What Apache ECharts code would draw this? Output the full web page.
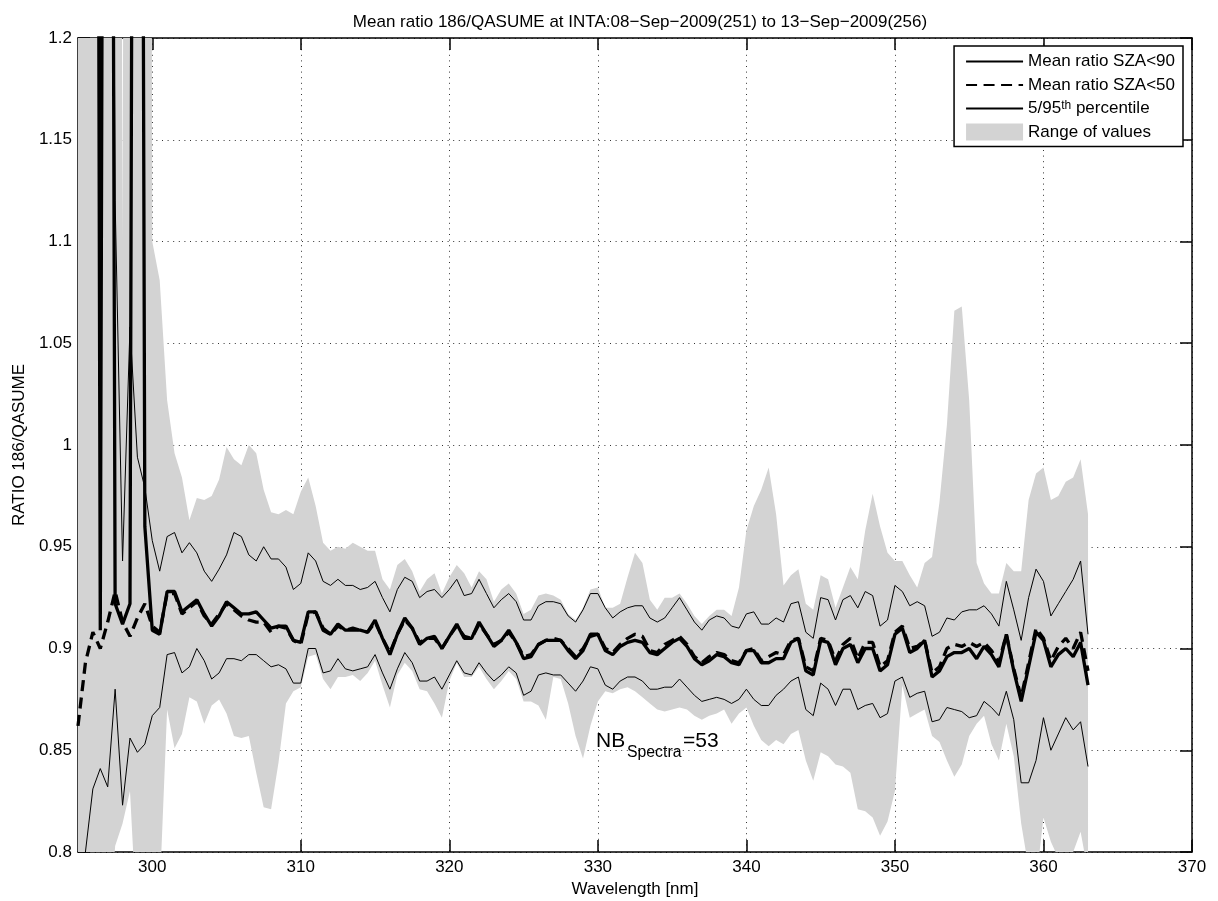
<!DOCTYPE html>
<html>
<head>
<meta charset="utf-8">
<script src="https://cdn.jsdelivr.net/npm/echarts@6/dist/echarts.min.js"></script>
<style>
html,body{margin:0;padding:0;background:#fff;}
#chart{width:1218px;height:901px;}
</style>
</head>
<body>
<div id="chart"></div>
<script>
// ---- data (wavelength in nm, ratio values) ----
const wavelength = [
 295,295.5,296,296.5,297,297.5,298,298.5,299,299.5,
 300,300.5,301,301.5,302,302.5,303,303.5,304,304.5,
 305,305.5,306,306.5,307,307.5,308,308.5,309,309.5,
 310,310.5,311,311.5,312,312.5,313,313.5,314,314.5,
 315,315.5,316,316.5,317,317.5,318,318.5,319,319.5,
 320,320.5,321,321.5,322,322.5,323,323.5,324,324.5,
 325,325.5,326,326.5,327,327.5,328,328.5,329,329.5,
 330,330.5,331,331.5,332,332.5,333,333.5,334,334.5,
 335,335.5,336,336.5,337,337.5,338,338.5,339,339.5,
 340,340.5,341,341.5,342,342.5,343,343.5,344,344.5,
 345,345.5,346,346.5,347,347.5,348,348.5,349,349.5,
 350,350.5,351,351.5,352,352.5,353,353.5,354,354.5,
 355,355.5,356,356.5,357,357.5,358,358.5,359,359.5,
 360,360.5,361,361.5,362,362.5,363
];
const meanSza90 = [
 3.2,2.8,2.4,0.909,2.2,0.922,0.912,0.922,2.2,0.96,
 0.909,0.907,0.928,0.928,0.918,0.921,0.924,0.917,0.911,0.916,
 0.923,0.920,0.917,0.917,0.918,0.914,0.910,0.911,0.911,0.904,
 0.903,0.918,0.918,0.909,0.907,0.912,0.909,0.909,0.909,0.908,
 0.914,0.905,0.897,0.907,0.915,0.910,0.902,0.905,0.906,0.900,
 0.906,0.912,0.905,0.905,0.913,0.907,0.901,0.904,0.909,0.903,
 0.895,0.896,0.902,0.904,0.904,0.904,0.899,0.895,0.899,0.907,
 0.907,0.899,0.897,0.901,0.903,0.904,0.903,0.898,0.897,0.900,
 0.903,0.905,0.901,0.895,0.892,0.894,0.897,0.896,0.893,0.892,
 0.899,0.899,0.893,0.893,0.895,0.895,0.903,0.905,0.889,0.887,
 0.904,0.903,0.892,0.900,0.902,0.893,0.900,0.900,0.889,0.892,
 0.907,0.910,0.898,0.900,0.904,0.886,0.889,0.896,0.898,0.898,
 0.900,0.895,0.901,0.897,0.891,0.907,0.889,0.874,0.891,0.908,
 0.904,0.891,0.897,0.900,0.896,0.903,0.882
];
const meanSza50 = [
 0.862,0.893,0.908,0.900,0.913,0.928,0.913,0.906,0.915,0.922,
 0.911,0.908,0.927,0.927,0.917,0.920,0.923,0.916,0.912,0.917,
 0.922,0.919,0.916,0.914,0.913,0.913,0.908,0.911,0.910,0.904,
 0.902,0.917,0.918,0.910,0.907,0.911,0.909,0.910,0.909,0.908,
 0.913,0.905,0.898,0.907,0.914,0.910,0.903,0.905,0.905,0.900,
 0.906,0.911,0.906,0.905,0.912,0.907,0.902,0.904,0.908,0.903,
 0.896,0.897,0.902,0.904,0.905,0.904,0.900,0.896,0.900,0.906,
 0.907,0.900,0.898,0.902,0.905,0.907,0.906,0.899,0.898,0.902,
 0.904,0.906,0.902,0.896,0.893,0.896,0.898,0.897,0.894,0.893,
 0.899,0.900,0.894,0.896,0.898,0.897,0.904,0.905,0.891,0.889,
 0.905,0.904,0.894,0.902,0.905,0.895,0.903,0.903,0.891,0.894,
 0.908,0.911,0.900,0.901,0.904,0.888,0.891,0.900,0.902,0.901,
 0.903,0.901,0.903,0.899,0.893,0.907,0.890,0.876,0.893,0.910,
 0.905,0.894,0.901,0.905,0.900,0.908,0.889
];
const percentile95 = [
 1.6,1.8,1.9,1.7,1.8,1.12,0.943,1.058,0.994,0.979,
 0.953,0.938,0.955,0.957,0.947,0.952,0.947,0.938,0.933,0.939,
 0.946,0.957,0.955,0.946,0.943,0.950,0.944,0.944,0.940,0.929,
 0.932,0.947,0.943,0.933,0.931,0.934,0.931,0.931,0.929,0.930,
 0.933,0.925,0.918,0.929,0.935,0.933,0.925,0.928,0.929,0.925,
 0.929,0.934,0.926,0.927,0.934,0.927,0.920,0.924,0.927,0.923,
 0.914,0.914,0.921,0.923,0.923,0.922,0.916,0.913,0.919,0.927,
 0.927,0.920,0.915,0.918,0.920,0.921,0.921,0.915,0.913,0.915,
 0.920,0.925,0.919,0.913,0.909,0.914,0.916,0.915,0.911,0.910,
 0.917,0.918,0.912,0.912,0.915,0.913,0.922,0.923,0.908,0.905,
 0.925,0.924,0.914,0.924,0.926,0.920,0.928,0.926,0.911,0.914,
 0.931,0.928,0.921,0.923,0.921,0.906,0.908,0.915,0.914,0.918,
 0.919,0.919,0.921,0.917,0.911,0.933,0.919,0.904,0.925,0.939,
 0.933,0.916,0.922,0.928,0.934,0.943,0.907
];
const percentile5 = [
 0.76,0.800,0.831,0.841,0.832,0.880,0.823,0.856,0.849,0.853,
 0.867,0.871,0.897,0.898,0.888,0.891,0.900,0.894,0.885,0.888,
 0.895,0.895,0.894,0.897,0.897,0.894,0.891,0.892,0.890,0.883,
 0.883,0.900,0.900,0.888,0.889,0.895,0.890,0.889,0.890,0.891,
 0.897,0.888,0.880,0.890,0.898,0.893,0.884,0.884,0.886,0.880,
 0.887,0.894,0.888,0.887,0.893,0.888,0.884,0.887,0.891,0.888,
 0.877,0.879,0.887,0.888,0.887,0.887,0.883,0.879,0.884,0.891,
 0.890,0.882,0.880,0.884,0.886,0.886,0.884,0.880,0.880,0.881,
 0.881,0.885,0.881,0.877,0.874,0.875,0.876,0.875,0.873,0.875,
 0.880,0.875,0.872,0.872,0.877,0.880,0.884,0.886,0.870,0.867,
 0.883,0.880,0.872,0.880,0.880,0.870,0.872,0.873,0.866,0.868,
 0.884,0.886,0.876,0.878,0.879,0.864,0.865,0.871,0.870,0.869,
 0.866,0.867,0.874,0.871,0.867,0.879,0.865,0.834,0.834,0.845,
 0.866,0.850,0.858,0.866,0.860,0.864,0.842
];
const rangeMax = [
 2.5,2.5,2.5,2.5,2.5,2.5,1.10,2.5,2.5,3.0,
 1.10,1.081,1.022,0.996,0.984,0.963,0.974,0.973,0.975,0.983,
 0.999,0.993,0.990,1.000,0.996,0.978,0.967,0.966,0.968,0.966,
 0.977,0.984,0.970,0.952,0.948,0.950,0.949,0.952,0.950,0.948,
 0.948,0.934,0.929,0.941,0.944,0.938,0.928,0.934,0.937,0.927,
 0.935,0.941,0.937,0.930,0.938,0.934,0.923,0.929,0.932,0.927,
 0.917,0.919,0.926,0.927,0.926,0.924,0.917,0.914,0.920,0.929,
 0.930,0.920,0.920,0.922,0.935,0.947,0.942,0.924,0.919,0.925,
 0.925,0.927,0.922,0.916,0.912,0.916,0.919,0.919,0.916,0.930,
 0.958,0.970,0.978,0.989,0.966,0.931,0.936,0.939,0.922,0.919,
 0.936,0.934,0.920,0.930,0.940,0.934,0.958,0.976,0.960,0.947,
 0.943,0.943,0.936,0.930,0.942,0.945,0.972,1.010,1.066,1.068,
 1.022,0.942,0.932,0.927,0.927,0.942,0.938,0.938,0.973,0.986,
 0.989,0.973,0.975,0.982,0.984,0.993,0.966
];
const rangeMin = [
 0.70,0.70,0.70,0.72,0.75,0.803,0.814,0.830,0.76,0.74,
 0.74,0.78,0.870,0.851,0.858,0.876,0.874,0.863,0.872,0.875,
 0.868,0.857,0.856,0.857,0.839,0.822,0.821,0.844,0.873,0.879,
 0.881,0.896,0.897,0.885,0.880,0.886,0.886,0.887,0.884,0.888,
 0.894,0.882,0.871,0.887,0.893,0.889,0.880,0.879,0.873,0.866,
 0.884,0.893,0.886,0.886,0.891,0.885,0.880,0.884,0.889,0.885,
 0.874,0.874,0.872,0.865,0.886,0.885,0.873,0.857,0.846,0.862,
 0.874,0.879,0.878,0.880,0.881,0.879,0.876,0.873,0.870,0.869,
 0.870,0.871,0.870,0.867,0.865,0.867,0.868,0.870,0.863,0.868,
 0.871,0.862,0.855,0.852,0.855,0.853,0.858,0.860,0.845,0.835,
 0.849,0.847,0.843,0.842,0.839,0.821,0.820,0.817,0.808,0.815,
 0.830,0.882,0.866,0.868,0.870,0.857,0.854,0.845,0.837,0.843,
 0.857,0.863,0.867,0.853,0.845,0.863,0.847,0.814,0.792,0.785,
 0.817,0.805,0.797,0.790,0.800,0.810,0.790
];
const xTickValues = [300,310,320,330,340,350,360,370];
const nbSpectra = 53;

// ---- chart ----
const FONT = '"Liberation Sans", Arial, Helvetica, sans-serif';
const pairs = arr => wavelength.map((w, i) => [w, arr[i]]);

const chart = echarts.init(document.getElementById('chart'), null, {renderer: 'canvas'});

const frameLine = {show: true, onZero: false, lineStyle: {color: '#000', width: 1.5}};
const innerTick = {show: true, inside: true, length: 12, lineStyle: {color: '#000', width: 1.5}};
const gridDots = {show: true, lineStyle: {color: '#333', width: 1, type: [1, 4.6]}};

function renderRange(params, api) {
  const cs = params.coordSys;
  const pts = [];
  for (let i = 0; i < wavelength.length; i++) pts.push(api.coord([wavelength[i], rangeMax[i]]));
  for (let i = wavelength.length - 1; i >= 0; i--) pts.push(api.coord([wavelength[i], rangeMin[i]]));
  return {
    type: 'group',
    clipPath: {type: 'rect', shape: {x: cs.x, y: cs.y, width: cs.width, height: cs.height}},
    children: [{type: 'polygon', shape: {points: pts}, style: {fill: '#d3d3d3', stroke: null}}]
  };
}

const option = {
  animation: false,
  backgroundColor: '#fff',
  title: {
    text: 'Mean ratio 186/QASUME at INTA:08\u2212Sep\u22122009(251) to 13\u2212Sep\u22122009(256)',
    left: 635, top: 9, textAlign: 'center',
    textStyle: {color: '#000', fontSize: 17, fontWeight: 'normal', fontFamily: FONT}
  },
  grid: {left: 78, right: 26, top: 38, bottom: 49, containLabel: false, outerBoundsMode: 'none'},
  xAxis: [{
    type: 'value', min: 295, max: 370, position: 'bottom',
    axisLine: frameLine,
    axisTick: Object.assign({customValues: xTickValues}, innerTick),
    axisLabel: {customValues: xTickValues, color: '#000', fontSize: 17, fontFamily: FONT, margin: 7},
    splitLine: gridDots,
    name: 'Wavelength [nm]', nameLocation: 'middle', nameGap: 27,
    nameTextStyle: {color: '#000', fontSize: 17, fontFamily: FONT}
  }, {
    type: 'value', min: 295, max: 370, position: 'top',
    axisLine: frameLine,
    axisTick: Object.assign({customValues: xTickValues}, innerTick),
    axisLabel: {show: false}, splitLine: {show: false}
  }],
  yAxis: [{
    type: 'value', min: 0.8, max: 1.2, interval: 0.05, position: 'left',
    axisLine: frameLine, axisTick: innerTick,
    axisLabel: {color: '#000', fontSize: 17, fontFamily: FONT, margin: 6},
    splitLine: gridDots,
    name: 'RATIO 186/QASUME', nameLocation: 'middle', nameGap: 50,
    nameTextStyle: {color: '#000', fontSize: 17, fontFamily: FONT}
  }, {
    type: 'value', min: 0.8, max: 1.2, interval: 0.05, position: 'right',
    axisLine: frameLine, axisTick: innerTick,
    axisLabel: {show: false}, splitLine: {show: false}
  }],
  legend: {
    data: [
      {name: 'Mean ratio SZA<90'},
      {name: 'Mean ratio SZA<50'},
      {name: '5/95th percentile'},
      {name: 'Range of values', icon: 'rect', itemStyle: {color: '#d3d3d3', borderWidth: 0, opacity: 1}}
    ],
    orient: 'vertical', right: 35, top: 46,
    itemWidth: 57, itemHeight: 17, itemGap: 6.5,
    backgroundColor: '#fff', borderColor: '#000', borderWidth: 1.5, borderRadius: 0,
    padding: [7, 8, 6, 11],
    selectedMode: false,
    itemStyle: {opacity: 0},
    formatter: n => n === '5/95th percentile' ? '5/95{sup|th} percentile' : n,
    textStyle: {
      color: '#000', fontSize: 17, fontFamily: FONT,
      rich: {sup: {color: '#000', fontSize: 12, fontFamily: FONT, verticalAlign: 'top'}}
    }
  },
  series: [
    {
      name: 'Range of values', type: 'custom', coordinateSystem: 'cartesian2d',
      data: [[wavelength[0], rangeMin[0]]], renderItem: renderRange,
      itemStyle: {color: '#d3d3d3'}, silent: true, z: 1
    },
    {
      name: '5/95th percentile', type: 'line', data: pairs(percentile95), z: 2,
      symbol: 'none', itemStyle: {color: '#000'}, lineStyle: {color: '#000', width: 1}
    },
    {
      name: '5/95th percentile', type: 'line', data: pairs(percentile5), z: 2,
      symbol: 'none', itemStyle: {color: '#000'}, lineStyle: {color: '#000', width: 1}
    },
    {
      name: 'Mean ratio SZA<90', type: 'line', data: pairs(meanSza90), z: 3,
      symbol: 'none', itemStyle: {color: '#000'}, lineStyle: {color: '#000', width: 3.3}
    },
    {
      name: 'Mean ratio SZA<50', type: 'line', data: pairs(meanSza50), z: 3,
      symbol: 'none', itemStyle: {color: '#000'}, lineStyle: {color: '#000', width: 3.3, type: [11, 6.5]}
    }
  ],
  graphic: [
    {type: 'text', x: 596, y: 741, z: 100,
      style: {text: 'NB', fill: '#000', fontSize: 21, fontFamily: FONT, verticalAlign: 'middle'}},
    {type: 'text', x: 627, y: 753, z: 100,
      style: {text: 'Spectra', fill: '#000', fontSize: 15.8, fontFamily: FONT, verticalAlign: 'middle'}},
    {type: 'text', x: 683, y: 741, z: 100,
      style: {text: '=' + nbSpectra, fill: '#000', fontSize: 21, fontFamily: FONT, verticalAlign: 'middle'}}
  ]
};
chart.setOption(option);
</script>
</body>
</html>
